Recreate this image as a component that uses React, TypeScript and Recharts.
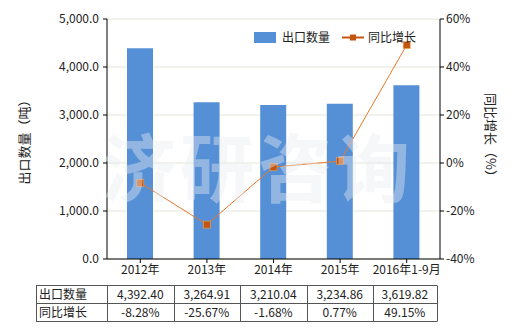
import React from 'react';
import { ComposedChart, Bar, Line, XAxis, YAxis, CartesianGrid } from 'recharts';

const years = ['2012年', '2013年', '2014年', '2015年', '2016年1-9月'];
const exportQty = [4392.4, 3264.91, 3210.04, 3234.86, 3619.82];
const yoyGrowth = [-8.28, -25.67, -1.68, 0.77, 49.15];
const leftTicks = [0, 1000, 2000, 3000, 4000, 5000];
const rightTicks = [-40, -20, 0, 20, 40, 60];

const data = years.map((y, i) => ({ year: y, qty: exportQty[i], yoy: yoyGrowth[i] }));

const BAR = '#5590d6';
const LINE = '#e8782a';
const DOT = '#c4550f';
const FONT = '"Noto Sans CJK SC", "Noto Sans", sans-serif';

const fmtQty = (v: number) =>
  v.toLocaleString('en-US', { minimumFractionDigits: 1, maximumFractionDigits: 1 });
const fmtQty2 = (v: number) =>
  v.toLocaleString('en-US', { minimumFractionDigits: 2, maximumFractionDigits: 2 });

const SquareDot = (props: any) => {
  const { cx, cy } = props;
  if (cx == null || cy == null) return null;
  return <rect x={cx - 3.5} y={cy - 3.5} width={7} height={7} fill={DOT} stroke="#f0a050" strokeWidth={0.6} />;
};

const colX = [36, 107, 173.5, 240, 306.7, 372.7, 437];

export default function App() {
  return (
    <div style={{ position: 'absolute', left: 0, top: 0, width: 520, height: 330, background: '#fff', fontFamily: FONT }}>
      <ComposedChart width={520} height={330} data={data} margin={{ top: 19, right: 30, left: 47, bottom: 41 }}>
        <CartesianGrid vertical={false} stroke="#e6e6dc" yAxisId="left" />
        <XAxis
          dataKey="year"
          height={30}
          axisLine={{ stroke: '#000' }}
          tickLine={{ stroke: '#000' }}
          tickSize={4}
          tick={{ fontSize: 12, fill: '#222' }}
          interval={0}
        />
        <YAxis
          yAxisId="left"
          width={60}
          domain={[0, 5000]}
          ticks={leftTicks}
          tickFormatter={fmtQty}
          axisLine={{ stroke: '#000' }}
          tickLine={{ stroke: '#000' }}
          tickSize={4}
          tickMargin={4}
          tick={{ fontSize: 12, fill: '#222' }}
        />
        <YAxis
          yAxisId="right"
          orientation="right"
          width={50}
          domain={[-40, 60]}
          ticks={rightTicks}
          tickFormatter={(v: number) => `${v}%`}
          axisLine={{ stroke: '#000' }}
          tickLine={{ stroke: '#000' }}
          tickSize={4}
          tickMargin={2}
          tick={{ fontSize: 12, fill: '#222' }}
        />
        <Bar yAxisId="left" dataKey="qty" fill={BAR} barSize={26} isAnimationActive={false} />
        <Line
          yAxisId="right"
          dataKey="yoy"
          stroke={LINE}
          strokeWidth={1}
          dot={<SquareDot />}
          activeDot={false}
          isAnimationActive={false}
        />
      </ComposedChart>
      <svg width={520} height={330} style={{ position: 'absolute', left: 0, top: 0, pointerEvents: 'none', fontFamily: FONT }}>
        <text x={258} y={196} fontSize={74} fontWeight={700} textAnchor="middle" fill="#e8ecf0" fillOpacity={0.42} letterSpacing={4}>
          济研咨询
        </text>
        {/* legend */}
        <g fontSize={12} fill="#222">
          <rect x={254} y={32} width={22} height={11} fill={BAR} />
          <text x={282} y={42}>出口数量</text>
          <line x1={342} y1={37.5} x2={364} y2={37.5} stroke={DOT} strokeWidth={2} />
          <rect x={350} y={34.5} width={6} height={6} fill={DOT} />
          <text x={368} y={42}>同比增长</text>
        </g>
        <text transform="translate(29,139) rotate(-90)" textAnchor="middle" fontSize={13} fill="#222">
          出口数量（吨）
        </text>
        <text transform="translate(486,138) rotate(90)" textAnchor="middle" fontSize={13} fill="#222">
          同比增长（%）
        </text>
        <g stroke="#555" strokeWidth={1} fill="none">
          <line x1={36} y1={285.5} x2={437} y2={285.5} />
          <line x1={36} y1={303.5} x2={437} y2={303.5} />
          <line x1={36} y1={321.5} x2={437} y2={321.5} />
          {colX.map((x, i) => (
            <line key={i} x1={Math.round(x) + 0.5} y1={285.5} x2={Math.round(x) + 0.5} y2={321.5} />
          ))}
        </g>
        <g fontSize={12} fill="#222">
          <text x={39} y={299}>出口数量</text>
          <text x={39} y={317}>同比增长</text>
          {exportQty.map((v, i) => (
            <text key={'q' + i} x={(colX[i + 1] + colX[i + 2]) / 2} y={299} textAnchor="middle">
              {fmtQty2(v)}
            </text>
          ))}
          {yoyGrowth.map((v, i) => (
            <text key={'g' + i} x={(colX[i + 1] + colX[i + 2]) / 2} y={317} textAnchor="middle">
              {v.toFixed(2)}%
            </text>
          ))}
        </g>
      </svg>
    </div>
  );
}
